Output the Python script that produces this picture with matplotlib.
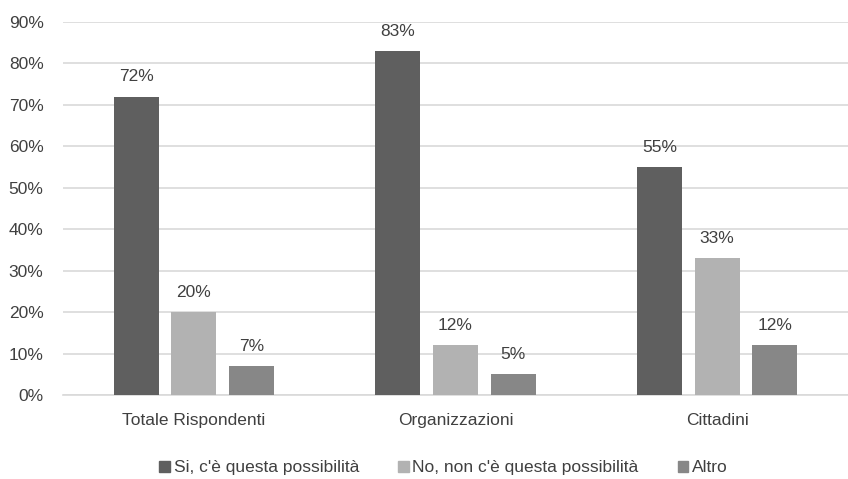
import matplotlib
matplotlib.use("Agg")
import matplotlib.pyplot as plt
import numpy as np
from matplotlib.patches import Patch

plt.rcParams['font.family'] = ['Liberation Sans', 'DejaVu Sans']

categories = ["Totale Rispondenti", "Organizzazioni", "Cittadini"]
series_names = ["Si, c'è questa possibilità", "No, non c'è questa possibilità", "Altro"]
si_vals = [72, 83, 55]
no_vals = [20, 12, 33]
altro_vals = [7, 5, 12]
colors = ["#5f5f5f", "#b2b2b2", "#878787"]
text_color = "#404040"

fig = plt.figure(figsize=(8.48, 4.79), dpi=100)
ax = fig.add_axes([0.0743, 0.1754, 0.9257, 0.7786])

x = np.arange(len(categories))
width = 0.172
spacing = 0.221
for i, (vals, col, name) in enumerate(zip([si_vals, no_vals, altro_vals], colors, series_names)):
    pos = x + (i - 1) * spacing
    ax.bar(pos, vals, width=width, color=col, label=name, zorder=3)
    for p, v in zip(pos, vals):
        ax.text(p, v + 3, f"{v}%", ha='center', va='bottom', fontsize=12.5, color=text_color)

ax.set_xlim(-0.5, 2.5)
ax.set_ylim(0, 90)
ax.set_yticks(np.arange(0, 91, 10))
ax.set_yticklabels([f"{t}%" for t in range(0, 91, 10)], fontsize=12.5, color=text_color)
ax.set_xticks(x)
ax.set_xticklabels(categories, fontsize=12.5, color=text_color)
ax.tick_params(axis='both', length=0)
ax.tick_params(axis='y', pad=14)
ax.tick_params(axis='x', pad=13)
ax.grid(axis='y', color='#d9d9d9', linewidth=1.2, zorder=0)
for s in ['top', 'right', 'left']:
    ax.spines[s].set_visible(False)
ax.spines['bottom'].set_color('#d9d9d9')
ax.spines['bottom'].set_linewidth(1.2)

handles = [Patch(color=c) for c in colors]
fig.legend(handles, series_names, loc='center', bbox_to_anchor=(0.523, 0.023), ncol=3,
           frameon=False, fontsize=12.5, handlelength=0.62, handleheight=0.62,
           handletextpad=0.2, columnspacing=2.25, labelcolor=text_color)

fig.savefig("out.png", dpi=100)
